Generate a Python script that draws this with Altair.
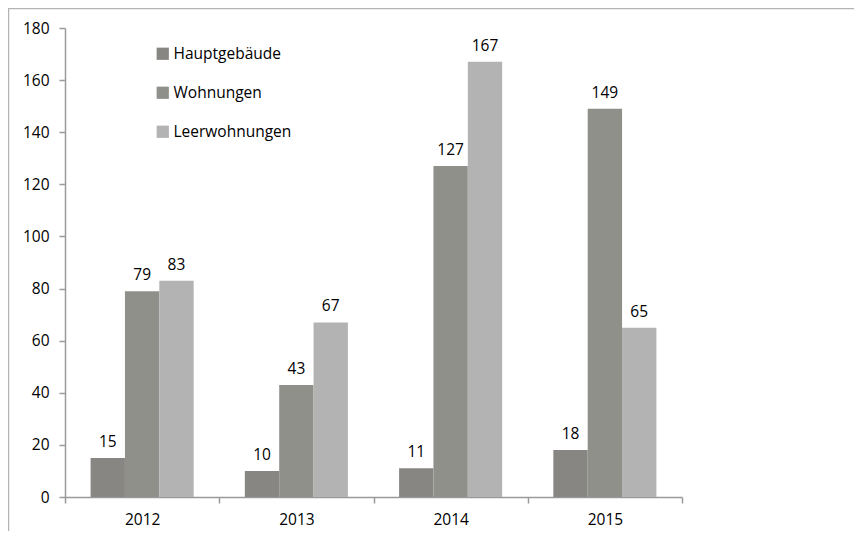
import altair as alt
import pandas as pd

years = ["2012", "2013", "2014", "2015"]
series = ["Hauptgebäude", "Wohnungen", "Leerwohnungen"]
hauptgebaeude = [15, 10, 11, 18]
wohnungen = [79, 43, 127, 149]
leerwohnungen = [83, 67, 167, 65]
colors = ["#878682", "#90908b", "#b3b3b3"]
y_ticks = [0, 20, 40, 60, 80, 100, 120, 140, 160, 180]

rows = []
for i, y in enumerate(years):
    for s, vals in zip(series, [hauptgebaeude, wohnungen, leerwohnungen]):
        rows.append({"Jahr": y, "Serie": s, "Wert": vals[i]})
df = pd.DataFrame(rows)

FONT = "Open Sans"
FS = 15.5

x_enc = alt.X(
    "Jahr:N",
    sort=years,
    scale=alt.Scale(paddingInner=0, paddingOuter=0),
    axis=alt.Axis(
        title=None, labelAngle=0, tickBand="extent", tickSize=6,
        labelPadding=9, labelFontSize=FS, labelFont=FONT, labelColor="#000000",
        domainColor="#9a9a9a", tickColor="#9a9a9a", domainWidth=1.5, tickWidth=1.5,
    ),
)
xoff_enc = alt.XOffset(
    "Serie:N", sort=series, scale=alt.Scale(paddingInner=0, paddingOuter=0.745)
)
y_enc = alt.Y(
    "Wert:Q",
    scale=alt.Scale(domain=[0, 180], nice=False),
    axis=alt.Axis(
        title=None, values=y_ticks, grid=False, tickSize=6, labelPadding=10,
        labelFontSize=FS, labelFont=FONT, labelColor="#000000",
        domainColor="#9a9a9a", tickColor="#9a9a9a", domainWidth=1.5, tickWidth=1.5,
    ),
)

bars = alt.Chart(df).mark_bar().encode(
    x=x_enc,
    xOffset=xoff_enc,
    y=y_enc,
    color=alt.Color(
        "Serie:N",
        sort=series,
        scale=alt.Scale(domain=series, range=colors),
        legend=alt.Legend(
            title=None, orient="none", legendX=90, legendY=18,
            symbolType="square", symbolSize=150, symbolStrokeWidth=0,
            labelFontSize=FS, labelFont=FONT, labelColor="#000000",
            rowPadding=22, labelOffset=3,
        ),
    ),
)

labels = alt.Chart(df).mark_text(
    baseline="bottom", dy=-8, fontSize=FS, font=FONT, color="#000000"
).encode(
    x=x_enc,
    xOffset=xoff_enc,
    y=y_enc,
    text=alt.Text("Wert:Q"),
)

frame_df = pd.DataFrame({"k": [0]})
top_border = alt.Chart(frame_df).mark_rule(color="#b4b4b4", strokeWidth=1.5).encode(
    x=alt.value(-57), x2=alt.value(900), y=alt.value(-19.5)
)
left_border = alt.Chart(frame_df).mark_rule(color="#b4b4b4", strokeWidth=1.5).encode(
    x=alt.value(-56.5), y=alt.value(-20), y2=alt.value(600)
)

chart = alt.layer(top_border, left_border, bars, labels).properties(
    width=617,
    height=469,
    autosize=alt.AutoSizeParams(type="none"),
    padding={"left": 57, "top": 20, "right": 172, "bottom": 34},
).configure_view(stroke=None)

chart.save("out.html", embed_options={"renderer": "svg", "actions": False})
